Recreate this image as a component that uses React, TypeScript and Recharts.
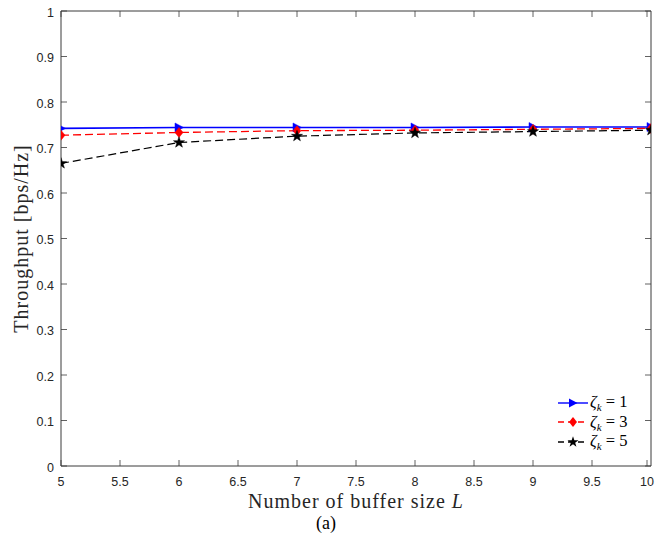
import { LineChart, Line, XAxis, YAxis, ReferenceLine } from "recharts";

// Données
const bufferSizes = [5, 6, 7, 8, 9, 10];
const zeta1 = [0.742, 0.744, 0.744, 0.744, 0.745, 0.745];
const zeta3 = [0.727, 0.733, 0.737, 0.738, 0.740, 0.742];
const zeta5 = [0.665, 0.711, 0.725, 0.732, 0.735, 0.738];

const xTicks = [5, 5.5, 6, 6.5, 7, 7.5, 8, 8.5, 9, 9.5, 10];
const yTicks = [0, 0.1, 0.2, 0.3, 0.4, 0.5, 0.6, 0.7, 0.8, 0.9, 1];

const data = bufferSizes.map((L, i) => ({ L, z1: zeta1[i], z3: zeta3[i], z5: zeta5[i] }));

const W = 655;
const H = 547;
const MARGIN = { top: 11, right: 4, left: 0, bottom: 0 };
const Y_AXIS_W = 61;
const X_AXIS_H = 81;
const PLOT_LEFT = MARGIN.left + Y_AXIS_W;
const PLOT_RIGHT = W - MARGIN.right;
const PLOT_TOP = MARGIN.top;
const PLOT_BOTTOM = H - X_AXIS_H;
const TICK_LEN = 6;
const AXIS_COLOR = "#3a3a3a";
const DASH = "8 4";
const TICK_FONT = "'Liberation Sans', Arial, Helvetica, sans-serif";
const SERIF = "'Liberation Serif', 'Times New Roman', serif";

// Ticks vers l'intérieur, sur les deux côtés (style MATLAB "box on")
function YTick(props: any) {
  const { x, y, payload } = props;
  return (
    <g>
      <line x1={PLOT_LEFT} x2={PLOT_LEFT + TICK_LEN} y1={y} y2={y} stroke={AXIS_COLOR} strokeWidth={0.8} />
      <line x1={PLOT_RIGHT - TICK_LEN} x2={PLOT_RIGHT} y1={y} y2={y} stroke={AXIS_COLOR} strokeWidth={0.8} />
      <text x={x} y={y} dy="0.45em" textAnchor="end" fontSize={12.5} fill="#262626" fontFamily={TICK_FONT}>
        {String(payload.value)}
      </text>
    </g>
  );
}

function XTick(props: any) {
  const { x, y, payload } = props;
  return (
    <g>
      <line x1={x} x2={x} y1={PLOT_BOTTOM} y2={PLOT_BOTTOM - TICK_LEN} stroke={AXIS_COLOR} strokeWidth={0.8} />
      <line x1={x} x2={x} y1={PLOT_TOP} y2={PLOT_TOP + TICK_LEN} stroke={AXIS_COLOR} strokeWidth={0.8} />
      <text x={x} y={y} dy="0.71em" textAnchor="middle" fontSize={12.5} fill="#262626" fontFamily={TICK_FONT}>
        {String(payload.value)}
      </text>
    </g>
  );
}

// Marqueurs
function triPoints(cx: number, cy: number) {
  return `${cx - 4},${cy - 4.5} ${cx + 4.5},${cy} ${cx - 4},${cy + 4.5}`;
}
function diamondPoints(cx: number, cy: number) {
  return `${cx},${cy - 5} ${cx + 4},${cy} ${cx},${cy + 5} ${cx - 4},${cy}`;
}
function starPoints(cx: number, cy: number) {
  const pts: string[] = [];
  for (let i = 0; i < 10; i++) {
    const r = i % 2 === 0 ? 5.8 : 2.3;
    const a = -Math.PI / 2 + (i * Math.PI) / 5;
    pts.push(`${cx + r * Math.cos(a)},${cy + r * Math.sin(a)}`);
  }
  return pts.join(" ");
}

const TriDot = (p: any) => <polygon key={p.index} points={triPoints(p.cx, p.cy)} fill="#0000ff" stroke="#0000ff" strokeWidth={0.5} />;
const DiamondDot = (p: any) => <polygon key={p.index} points={diamondPoints(p.cx, p.cy)} fill="#ff0000" stroke="#ff0000" strokeWidth={0.5} />;
const StarDot = (p: any) => <polygon key={p.index} points={starPoints(p.cx, p.cy)} fill="#000" stroke="#000" strokeWidth={0.5} />;

const SERIES = [
  { key: "z1", value: "1", color: "#0000ff", dash: undefined as string | undefined, marker: triPoints },
  { key: "z3", value: "3", color: "#ff0000", dash: DASH, marker: diamondPoints },
  { key: "z5", value: "5", color: "#000000", dash: DASH, marker: starPoints },
];

function LegendBox() {
  return (
    <div style={{ position: "absolute", left: 556, top: 393, display: "flex", flexDirection: "column" }}>
      {SERIES.map((s) => (
        <div key={s.key} style={{ display: "flex", alignItems: "center", height: 19.5 }}>
          <svg width={34} height={14} style={{ display: "block" }}>
            <line x1={2} x2={32} y1={7} y2={7} stroke={s.color} strokeWidth={1.4} strokeDasharray={s.dash ? "6 4" : undefined} />
            <polygon points={s.marker(17, 7)} fill={s.color} />
          </svg>
          <span style={{ fontFamily: SERIF, fontSize: 16.5, color: "#000", whiteSpace: "nowrap", lineHeight: "16px" }}>
            <i>ζ</i>
            <span style={{ fontSize: 11, fontStyle: "italic", position: "relative", top: 4 }}>k</span>
            {" = " + s.value}
          </span>
        </div>
      ))}
    </div>
  );
}

export default function App() {
  return (
    <div style={{ position: "absolute", left: 0, top: 0, width: W, height: H, background: "#fff" }}>
      <LineChart width={W} height={H} data={data} margin={MARGIN}>
        <XAxis
          dataKey="L"
          type="number"
          domain={[5, 10]}
          ticks={xTicks}
          allowDataOverflow
          height={X_AXIS_H}
          tickSize={0}
          tickMargin={11}
          tick={<XTick />}
          stroke={AXIS_COLOR}
          label={{
            position: "insideTop",
            content: () => (
              <text x={356} y={508} textAnchor="middle" fontFamily={SERIF} fontSize={20} letterSpacing={1} fill="#262626">
                Number of buffer size <tspan fontStyle="italic">L</tspan>
              </text>
            ),
          }}
        />
        <YAxis
          type="number"
          domain={[0, 1]}
          ticks={yTicks}
          allowDataOverflow
          width={Y_AXIS_W}
          tickSize={0}
          tickMargin={7}
          tick={<YTick />}
          stroke={AXIS_COLOR}
          label={{
            position: "insideLeft",
            content: () => (
              <text
                x={0}
                y={0}
                transform={`translate(28, ${(PLOT_TOP + PLOT_BOTTOM) / 2}) rotate(-90)`}
                textAnchor="middle"
                fontFamily={SERIF}
                fontSize={20}
                letterSpacing={1}
                fill="#262626"
              >
                Throughput [bps/Hz]
              </text>
            ),
          }}
        />
        <ReferenceLine y={1} stroke={AXIS_COLOR} strokeWidth={1} ifOverflow="visible" />
        <ReferenceLine x={10} stroke={AXIS_COLOR} strokeWidth={1} ifOverflow="visible" />
        <Line
          dataKey="z1"
          stroke="#0000ff"
          strokeWidth={1.6}
          dot={TriDot}
          activeDot={false}
          isAnimationActive={false}
        />
        <Line
          dataKey="z3"
          stroke="#ff0000"
          strokeWidth={1.3}
          strokeDasharray={DASH}
          dot={DiamondDot}
          activeDot={false}
          isAnimationActive={false}
        />
        <Line
          dataKey="z5"
          stroke="#000000"
          strokeWidth={1.2}
          strokeDasharray={DASH}
          dot={StarDot}
          activeDot={false}
          isAnimationActive={false}
        />
      </LineChart>
      <LegendBox />
      <div style={{ position: "absolute", left: 316, top: 513, fontFamily: SERIF, fontSize: 18, color: "#000" }}>
        (a)
      </div>
    </div>
  );
}
